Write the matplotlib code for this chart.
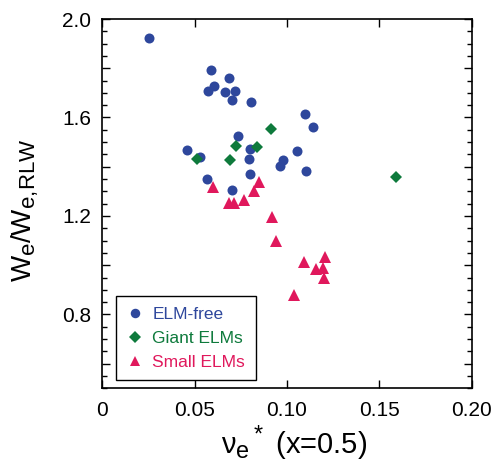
import matplotlib
matplotlib.use('Agg')
import matplotlib.pyplot as plt
import matplotlib._mathtext as mathtext_internal
from matplotlib.ticker import MultipleLocator, FuncFormatter

plt.rcParams['font.family'] = ['Liberation Sans', 'DejaVu Sans']
plt.rcParams['mathtext.fontset'] = 'custom'
plt.rcParams['mathtext.rm'] = 'Liberation Sans'
plt.rcParams['mathtext.it'] = 'Liberation Sans'
plt.rcParams['mathtext.bf'] = 'Liberation Sans:bold'
# subscripts in the original are larger than mathtext's default
mathtext_internal.SHRINK_FACTOR = 0.8

# ELM-free
free_x = [0.0250, 0.0590, 0.0684, 0.0606, 0.0570, 0.0662, 0.0718, 0.0704, 0.0805,
          0.1097, 0.1142, 0.0736, 0.0460, 0.0529, 0.0800, 0.0796, 0.1056, 0.0980,
          0.0960, 0.1101, 0.0800, 0.0565, 0.0704]
free_y = [1.922, 1.792, 1.762, 1.728, 1.709, 1.704, 1.706, 1.672, 1.663,
          1.614, 1.561, 1.525, 1.468, 1.438, 1.473, 1.431, 1.464, 1.426,
          1.402, 1.384, 1.369, 1.349, 1.307]

# Giant ELMs
giant_x = [0.0912, 0.0724, 0.0838, 0.0514, 0.0690, 0.1592]
giant_y = [1.552, 1.484, 1.479, 1.431, 1.426, 1.358]

# Small ELMs
small_x = [0.0601, 0.0850, 0.0821, 0.0766, 0.0688, 0.0713, 0.0917,
           0.0942, 0.1094, 0.1206, 0.1159, 0.1193, 0.1199, 0.1038]
small_y = [1.316, 1.339, 1.300, 1.264, 1.254, 1.254, 1.195,
           1.097, 1.013, 1.035, 0.985, 0.988, 0.948, 0.879]

blue = '#2e479c'
green = '#0e7a3c'
red = '#e0185c'

fig = plt.figure(figsize=(4.96, 4.66), dpi=100)
ax = fig.add_axes([0.2063, 0.1667, 0.7448, 0.7925])

ax.plot(free_x, free_y, 'o', color=blue, ms=7.2, mew=0, label='ELM-free')
ax.plot(giant_x, giant_y, 'D', color=green, ms=6.2, mew=0, label='Giant ELMs')
ax.plot(small_x, small_y, '^', color=red, ms=8, mew=0, label='Small ELMs')

ax.set_xlim(0, 0.20)
ax.set_ylim(0.5, 2.0)
ax.xaxis.set_major_locator(MultipleLocator(0.05))
ax.yaxis.set_major_locator(MultipleLocator(0.2))
ax.yaxis.set_minor_locator(MultipleLocator(0.05))


def xfmt(v, pos):
    if abs(v) < 1e-9:
        return '0'
    return '%.2f' % v


def yfmt(v, pos):
    k = round(v / 0.2)
    if k % 2 == 0:
        return '%.1f' % v
    return ''


ax.xaxis.set_major_formatter(FuncFormatter(xfmt))
ax.yaxis.set_major_formatter(FuncFormatter(yfmt))
ax.tick_params(which='both', direction='in', top=True, right=True, width=1.0,
               labelsize=15)
ax.tick_params(axis='x', pad=9)
ax.tick_params(axis='y', pad=8)
ax.tick_params(which='major', length=6)
ax.tick_params(which='minor', length=3.5)
for s in ax.spines.values():
    s.set_linewidth(1.2)

ax.set_ylabel(r'$W_e/W_{e,\!\mathrm{RLW}}$', fontsize=20)
ax.yaxis.set_label_coords(-0.167, 0.483)
ax.set_xlabel(r'$\nu_e{}^*$ (x=0.5)', fontsize=21)
ax.xaxis.set_label_coords(0.518, -0.095)

leg = ax.legend(loc='lower left', bbox_to_anchor=(0.037, 0.0225), borderaxespad=0,
                fontsize=12.5, fancybox=False, framealpha=1, edgecolor='black',
                handletextpad=0.5, borderpad=0.6, labelspacing=0.5, handlelength=1.0,
                markerscale=0.95)
leg.get_frame().set_linewidth(1.0)
for t, c in zip(leg.get_texts(), [blue, green, red]):
    t.set_color(c)

fig.savefig('out.png', dpi=100)
